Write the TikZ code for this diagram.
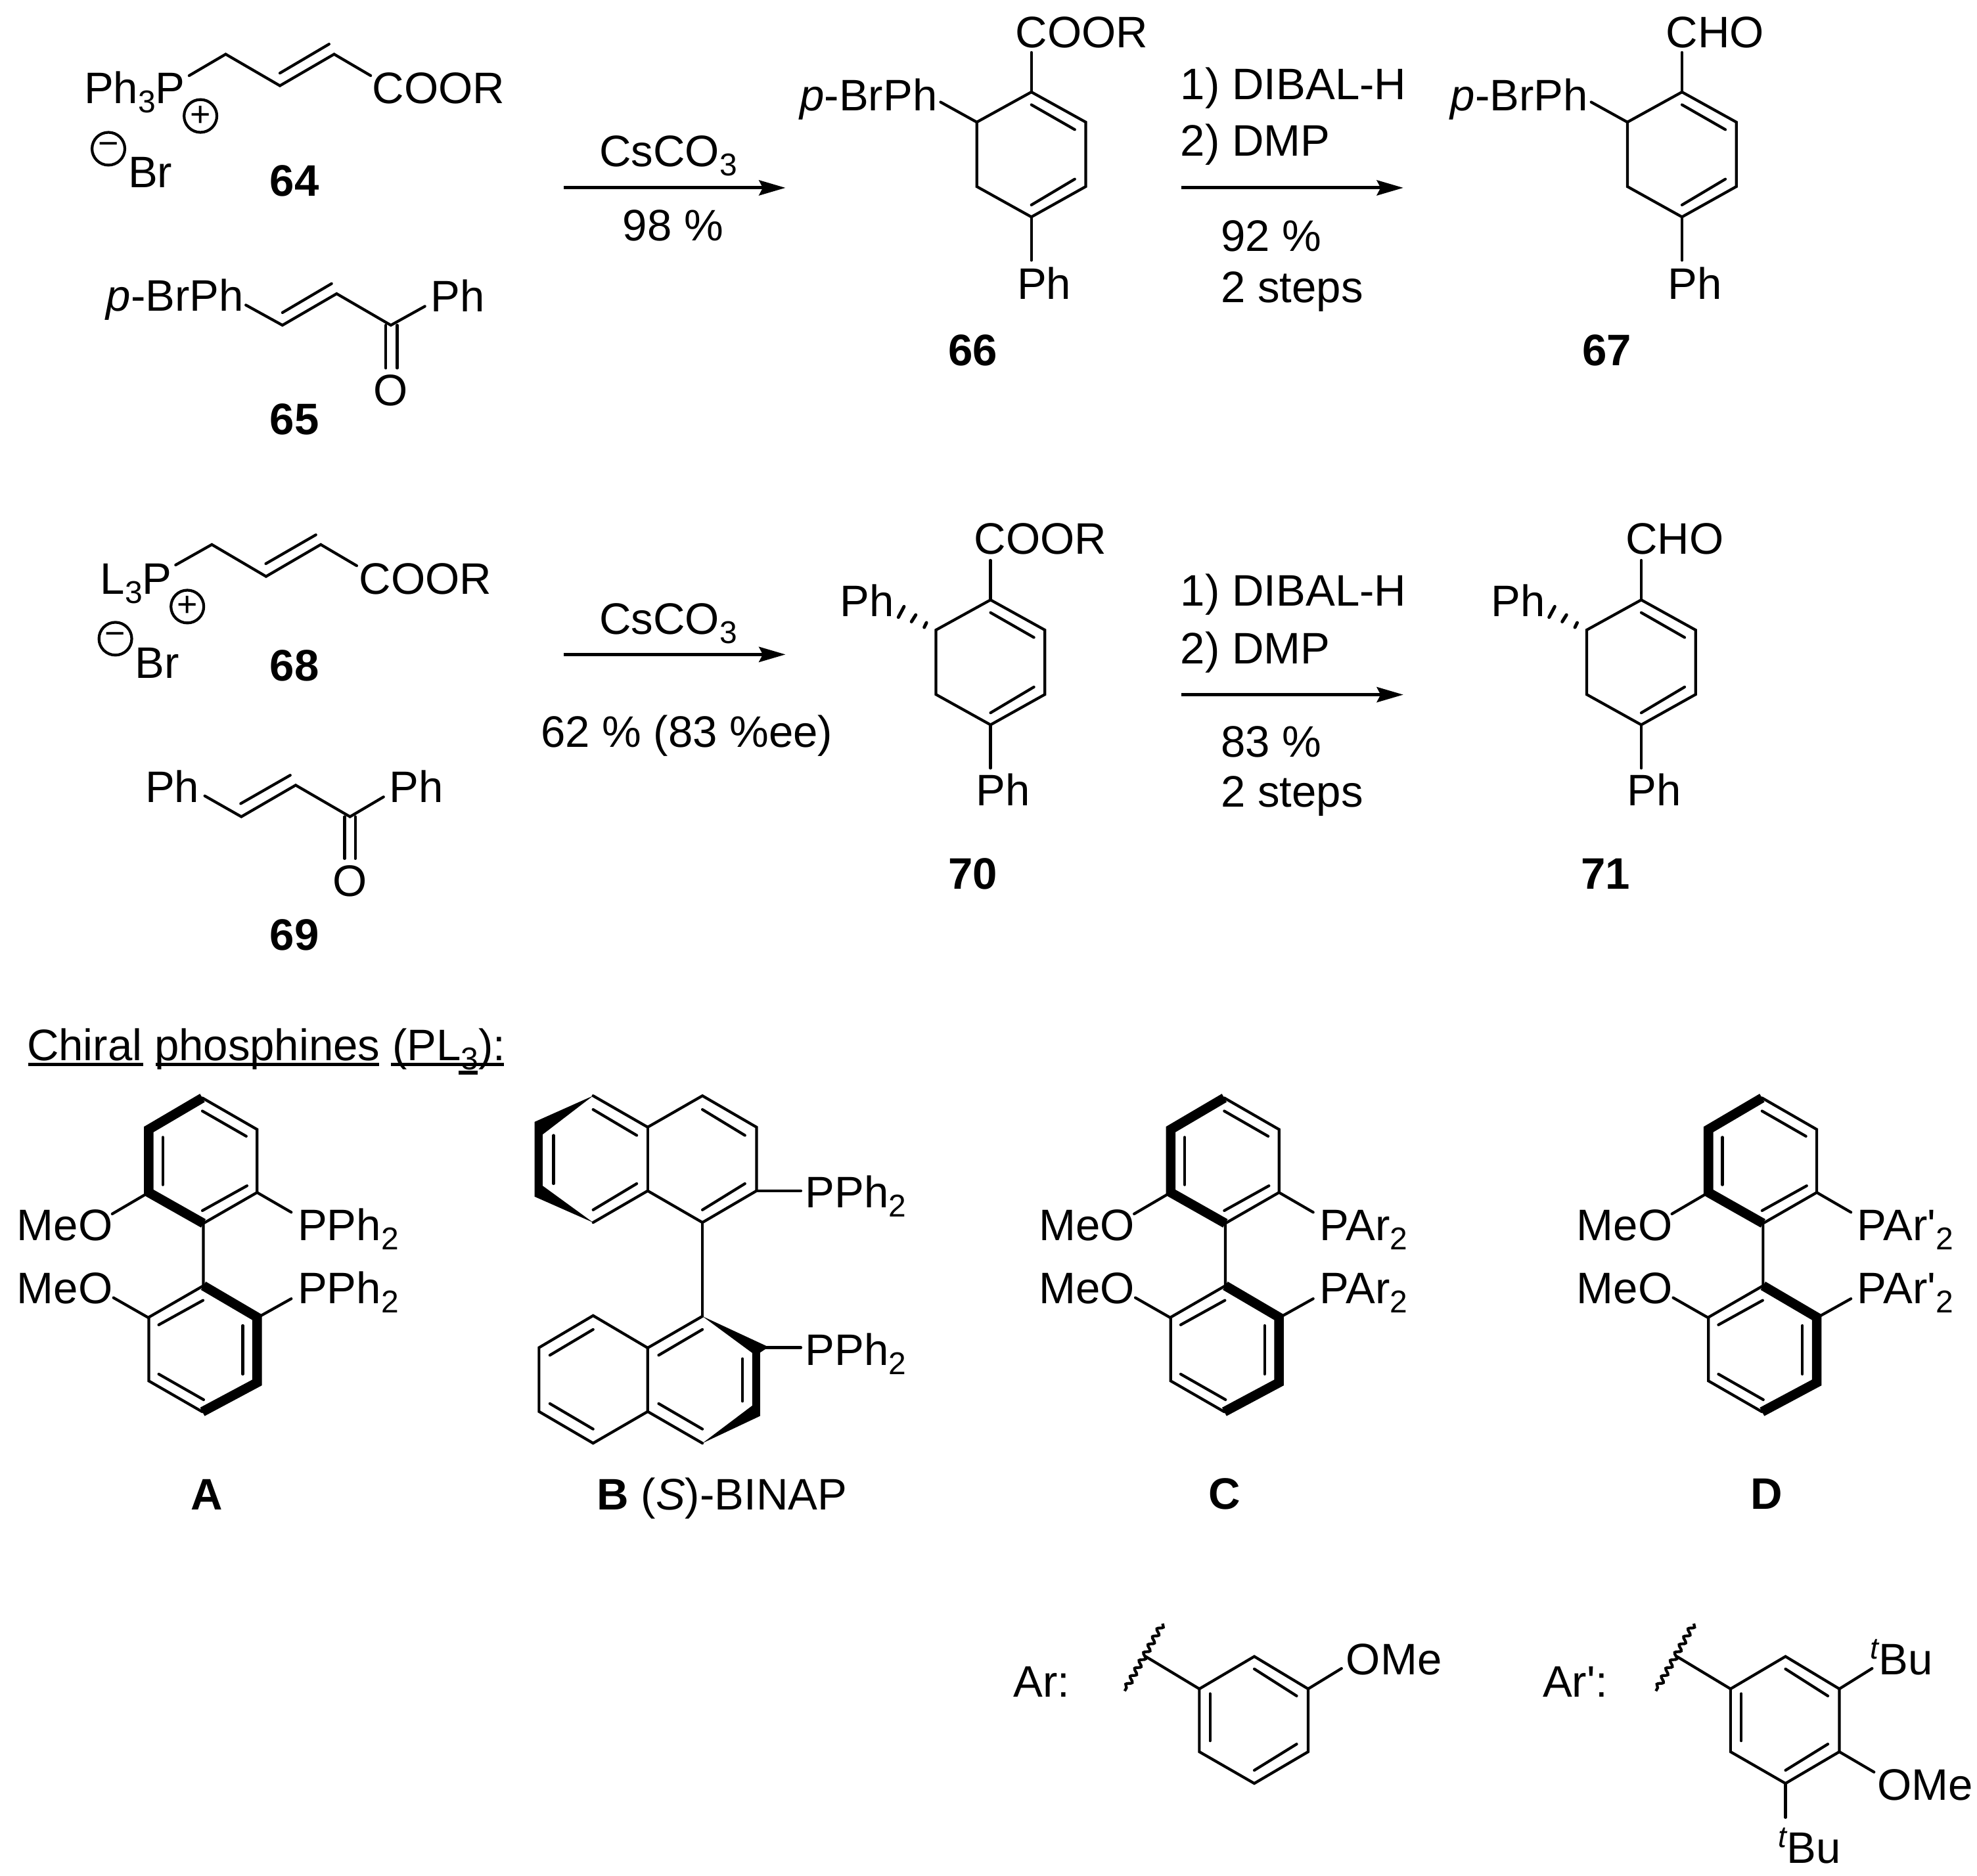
\documentclass[tikz,border=0pt]{standalone}
\usepackage{fontspec}
\setmainfont{Liberation Sans}
\newfontfamily\straightfont{Liberation Sans}
\usetikzlibrary{arrows.meta,decorations.pathmorphing}
\tikzset{>={Stealth[length=10.5pt,width=6pt,inset=1.5pt]},
    bond/.style={line width=1.1pt, line cap=round, line join=miter},
    boldbond/.style={line width=3.8pt, line join=miter},
    wedge/.style={fill=black, draw=none},
    hash/.style={line width=1.3pt, line cap=round},
    rxn/.style={line width=1.3pt, ->},
    squiggle/.style={line width=1.1pt, decorate, decoration={snake, segment length=3.6pt, amplitude=1pt}},
    ul/.style={line width=1.4pt},
    lab/.style={anchor=base west, inner sep=0pt, font=\fontsize{17.5}{21}\selectfont},
    cmpd/.style={anchor=base, inner sep=0pt, font=\fontsize{17.5}{21}\selectfont\bfseries},
    charge/.style={circle, draw, line width=1.1pt, minimum size=13pt, inner sep=0pt, font=\fontsize{14}{14}\selectfont}}
\newcommand{\chsub}[1]{\raisebox{-3.6pt}{\fontsize{12.5}{13}\selectfont #1}}
\newcommand{\chsup}[1]{\raisebox{6.2pt}{\fontsize{12}{13}\selectfont\itshape #1}}
\newcommand{\prm}{{\straightfont '}}
\newcommand{\dienering}{%
    \coordinate (t) at (0, 0);
    \coordinate (ur) at (43.1, 23.9);
    \coordinate (lr) at (43.1, 75);
    \coordinate (b) at (0, 99.1);
    \coordinate (ll) at (-43.3, 75);
    \coordinate (ul) at (-43.3, 23.9);
    \draw[bond] (t) -- (ur) -- (lr) -- (b) -- (ll) -- (ul) -- cycle;
    \draw[bond] (0, 10.1) -- (34.4, 29.8);
    \draw[bond] (34.4, 69.1) -- (0, 89.6);
    \draw[bond] (t) -- (0, -31.4);
    \draw[bond] (b) -- (0, 133.5);
}
\newcommand{\hashbond}{%
    \foreach \ax/\ay/\bx/\by in {-68.6/5.3/-73.1/13.8, -59.3/11.9/-62.7/17.3, -50.8/18.1/-52.6/21.8}
        \draw[hash] (\ax, \ay) -- (\bx, \by);
}
\newcommand{\arylring}{%
    \coordinate (t) at (0, 0);
    \coordinate (ur) at (42.7, 25.7);
    \coordinate (lr) at (42.7, 75.6);
    \coordinate (b) at (0, 100.7);
    \coordinate (ll) at (-43.6, 75.6);
    \coordinate (ul) at (-43.6, 25.7);
    \draw[bond] (t) -- (ur) -- (lr) -- (b) -- (ll) -- (ul) -- cycle;
    \draw[bond] (0, 9.9) -- (33.6, 31.3);
    \draw[bond] (-35.1, 29.5) -- (-35.1, 66.9);
    \draw[bond] (33.6, 69.5) -- (0, 90.3);
    \draw[bond] (ul) -- (-86.2, 0);
    \draw[squiggle] (-72.7, -26.1) -- (-102.8, 27.4);
}
\newcommand{\biaryl}[2]{%
    \draw[boldbond] (971, 871) -- (928.5, 896) -- (928.5, 946) -- (971.8, 970.5);
    \draw[bond] (971, 871) -- (1014.4, 896) -- (1014.4, 946) -- (971.8, 970.5) -- (971.8, 1019.7);
    \draw[bond] (971, 881.4) -- (1005.8, 901.4);
    \draw[bond] (939.6, 902.2) -- (939.6, 939.9);
    \draw[bond] (971, 960.4) -- (1006.4, 940.7);
    \draw[bond] (928.5, 946) -- (899.5, 963);
    \draw[bond] (1014.4, 946) -- (1041.5, 961.7);
    \draw[boldbond] (971.8, 1020) -- (1014.4, 1045) -- (1014.4, 1096.8) -- (971, 1120);
    \draw[bond] (971.8, 1020) -- (928.5, 1045) -- (928.5, 1095.5) -- (971, 1120);
    \draw[bond] (936.4, 1051) -- (971.5, 1031.6);
    \draw[bond] (936.4, 1090.1) -- (972, 1110.4);
    \draw[bond] (1003, 1051.6) -- (1003, 1090.1);
    \draw[bond] (928.5, 1045.5) -- (900.5, 1029.5);
    \draw[bond] (1017, 1044) -- (1041.5, 1030.3);
    \node[lab] at (823.6, 984.3) (#1meoa) {MeO};
    \node[lab] at (823.6, 1034.3) (#1meob) {MeO};
    \node[lab] at (1046.2, 984.3) (#1pa) {#2};
    \node[lab] at (1046.2, 1034.3) (#1pb) {#2};
}

\begin{document}
\begin{tikzpicture}[x=0.5pt, y=-0.5pt]
    \fill[white] (0, 0) rectangle (1568, 1488.2);
    \useasboundingbox (0, 0) rectangle (1568, 1488.2);

    \draw[bond] (150, 60) -- (179, 43) -- (222, 68) -- (265, 43) -- (294, 60);
    \draw[bond] (222, 58) -- (261, 35);
    \node[lab] at (66.3, 82) (ph3p) {Ph\chsub{3}P};
    \node[lab] at (295, 82) (coora) {COOR};
    \node[charge] at (159, 92) (plusa) {+};
    \node[charge] at (86, 118) (minusa) {−};
    \node[lab] at (101.3, 149) (bra) {Br};
    \node[cmpd] at (233.5, 155.5) (c64) {64};

    \draw[bond] (195, 242) -- (224, 258) -- (267, 233) -- (310, 258) -- (337, 243);
    \draw[bond] (224, 248) -- (263, 225);
    \draw[bond] (306, 258) -- (306, 292);
    \draw[bond] (315, 258) -- (315, 292);
    \node[lab] at (84, 246.5) (brpha) {\textit{p}-BrPh};
    \node[lab] at (341.3, 247) (pha) {Ph};
    \node[lab, anchor=base] at (310, 322) (oa) {O};
    \node[cmpd] at (233.5, 344.5) (c65) {65};

    \coordinate (ra) at (447, 149);
    \coordinate (rb) at (623, 149);
    \draw[rxn] (ra) -- (rb);
    \node[lab] at (475, 132) (csa) {CsCO\chsub{3}};
    \node[lab] at (493.5, 190.8) (yielda) {98 \%};

    \begin{scope}[shift={(818, 73)}]
        \dienering
        \draw[bond] (ul) -- (-72, 8);
    \end{scope}
    \node[lab] at (805, 38) (coorb) {COOR};
    \node[lab] at (634, 88) (brphb) {\textit{p}-BrPh};
    \node[lab] at (806.3, 237.5) (phb) {Ph};
    \node[cmpd] at (771.5, 290) (c66) {66};

    \coordinate (rc) at (937, 149);
    \coordinate (rd) at (1113, 149);
    \draw[rxn] (rc) -- (rd);
    \node[lab] at (936, 79) (dibala) {1) DIBAL-H};
    \node[lab] at (936, 124) (dmpa) {2) DMP};
    \node[lab] at (968, 199.4) (yieldb) {92 \%};
    \node[lab] at (968, 240) (stepsa) {2 steps};

    \begin{scope}[shift={(1334, 73)}]
        \dienering
        \draw[bond] (ul) -- (-72, 8);
    \end{scope}
    \node[lab] at (1321, 38) (choa) {CHO};
    \node[lab] at (1150, 88) (brphc) {\textit{p}-BrPh};
    \node[lab] at (1322.3, 237.5) (phc) {Ph};
    \node[cmpd] at (1274.5, 290) (c67) {67};

    \draw[bond] (139.3, 448.2) -- (168, 432) -- (211, 457.3) -- (254.4, 432) -- (282.9, 448.8);
    \draw[bond] (210.8, 447.2) -- (250.5, 424.3);
    \node[lab] at (79.2, 471.4) (l3p) {L\chsub{3}P};
    \node[lab] at (284.6, 471.4) (coorc) {COOR};
    \node[charge] at (148.6, 481.2) (plusb) {+};
    \node[charge] at (91.5, 506.7) (minusb) {−};
    \node[lab] at (106.8, 537.8) (brb) {Br};
    \node[cmpd] at (233.5, 540.2) (c68) {68};

    \draw[bond] (162.4, 631.4) -- (191.4, 647.9) -- (234.5, 622.9) -- (277.6, 647.9) -- (304.2, 632.2);
    \draw[bond] (190.9, 637.5) -- (230.2, 615);
    \draw[bond] (273.3, 647.9) -- (273.3, 681.1);
    \draw[bond] (281.8, 647.9) -- (281.8, 681.1);
    \node[lab] at (114.8, 636.5) (phd) {Ph};
    \node[lab] at (308.6, 636.5) (phe) {Ph};
    \node[lab, anchor=base] at (277.6, 711.2) (ob) {O};
    \node[cmpd] at (233.5, 753.7) (c69) {69};

    \coordinate (re) at (447, 519.2);
    \coordinate (rf) at (623, 519.2);
    \draw[rxn] (re) -- (rf);
    \node[lab] at (475, 503) (csb) {CsCO\chsub{3}};
    \node[lab] at (428.5, 592.9) (yieldc) {62 \% (83 \%ee)};

    \begin{scope}[shift={(785.6, 475.9)}]
        \dienering
        \hashbond
    \end{scope}
    \node[lab] at (772.2, 439.5) (coord) {COOR};
    \node[lab] at (665.9, 489.2) (phf) {Ph};
    \node[lab] at (773.6, 638.9) (phg) {Ph};
    \node[cmpd] at (771.5, 705.3) (c70) {70};

    \coordinate (rg) at (937, 551.1);
    \coordinate (rh) at (1113, 551.1);
    \draw[rxn] (rg) -- (rh);
    \node[lab] at (936, 480.7) (dibalb) {1) DIBAL-H};
    \node[lab] at (936, 526.4) (dmpb) {2) DMP};
    \node[lab] at (968, 600.8) (yieldd) {83 \%};
    \node[lab] at (968, 640) (stepsb) {2 steps};

    \begin{scope}[shift={(1301.7, 475.9)}]
        \dienering
        \hashbond
    \end{scope}
    \node[lab] at (1288.8, 439.5) (chob) {CHO};
    \node[lab] at (1182.2, 489.2) (phh) {Ph};
    \node[lab] at (1290.2, 638.9) (phi) {Ph};
    \node[cmpd] at (1273.5, 705.3) (c71) {71};

    \node[lab] at (21, 841.2) (chiral) {Chiral phosphines (PL\chsub{3}):};
    \draw[ul] (22.6, 844.5) -- (113.5, 844.5);
    \draw[ul] (123.6, 844.5) -- (300.5, 844.5);
    \draw[ul] (309.8, 844.5) -- (399.6, 844.5);
    \draw[ul] (363.7, 851) -- (379, 851);

    \begin{scope}[shift={(-810.5, 0)}]
        \biaryl{aa}{PPh\chsub{2}}
    \end{scope}
    \node[cmpd] at (164, 1197.5) (lbla) {A};

    \fill[wedge] (470.4, 869.3) -- (424, 890) -- (424, 949.3) -- (470.4, 969.8) -- (430.4, 940.7) -- (430.4, 900) -- cycle;
    \draw[bond] (470.4, 869.3) -- (513.7, 894.2) -- (557.1, 869.3) -- (600, 894.2) -- (600, 944.7) -- (557.1, 969.8) -- (513.7, 944.7) -- (470.4, 969.8);
    \draw[bond] (513.7, 894.2) -- (513.7, 944.7);
    \draw[bond] (470.4, 880.2) -- (505, 900.7);
    \draw[bond] (439, 900.7) -- (439, 939);
    \draw[bond] (470.4, 959.8) -- (505, 939);
    \draw[bond] (557.1, 880.2) -- (590.8, 900.7);
    \draw[bond] (557.1, 959.8) -- (590.8, 939);
    \draw[bond] (600, 944.7) -- (635.2, 944.7);
    \draw[bond] (557.1, 969.8) -- (557.1, 1044.2);
    \node[lab] at (638.3, 958.2) (ppha) {PPh\chsub{2}};

    \fill[wedge] (557.1, 1044.2) -- (609.6, 1068.6) -- (602.9, 1073) -- (602.9, 1123.3) -- (557.1, 1144.9) -- (596.6, 1115.1) -- (596.6, 1073.3) -- cycle;
    \draw[bond] (557.1, 1044.2) -- (513.7, 1069.3) -- (513.7, 1119.8) -- (557.1, 1144.9);
    \draw[bond] (513.7, 1069.3) -- (470.4, 1043.7) -- (427.5, 1069.1) -- (427.5, 1119.8) -- (470.4, 1144.9) -- (513.7, 1119.8);
    \draw[bond] (470.4, 1054.7) -- (436.1, 1075.1);
    \draw[bond] (436.1, 1113.5) -- (470.4, 1133.7);
    \draw[bond] (522.4, 1075.1) -- (557.1, 1054.7);
    \draw[bond] (522.4, 1113.5) -- (557.1, 1133.7);
    \draw[bond] (588.9, 1077.9) -- (588.9, 1111.6);
    \draw[bond] (602.9, 1069) -- (635.2, 1069);
    \node[lab] at (638.3, 1083) (pphb) {PPh\chsub{2}};
    \node[lab] at (473, 1197.7) (lblb) {\textbf{B} (\textit{S})-BINAP};

    \biaryl{cc}{PAr\chsub{2}}
    \node[cmpd] at (971, 1197.3) (lblc) {C};

    \begin{scope}[shift={(426.5, 0)}]
        \biaryl{dd}{PAr\prm\chsub{2}}
    \end{scope}
    \node[cmpd] at (1401, 1197.3) (lbld) {D};

    \node[lab] at (803.5, 1346.2) (ara) {Ar:};
    \begin{scope}[shift={(994.8, 1314.1)}]
        \arylring
        \draw[bond] (ur) -- (69.2, 9.5);
    \end{scope}
    \node[lab] at (1067.3, 1328.3) (omea) {OMe};

    \node[lab] at (1223.2, 1346.2) (arb) {Ar\prm:};
    \begin{scope}[shift={(1416.1, 1314.1)}]
        \arylring
        \draw[bond] (ur) -- (68.7, 9.5);
        \draw[bond] (lr) -- (70.2, 91.7);
        \draw[bond] (b) -- (0, 127.7);
    \end{scope}
    \node[lab] at (1483, 1328.3) (tbua) {\chsup{t}Bu};
    \node[lab] at (1488.5, 1427.9) (omeb) {OMe};
    \node[lab] at (1410, 1478.2) (tbub) {\chsup{t}Bu};
\end{tikzpicture}
\end{document}
